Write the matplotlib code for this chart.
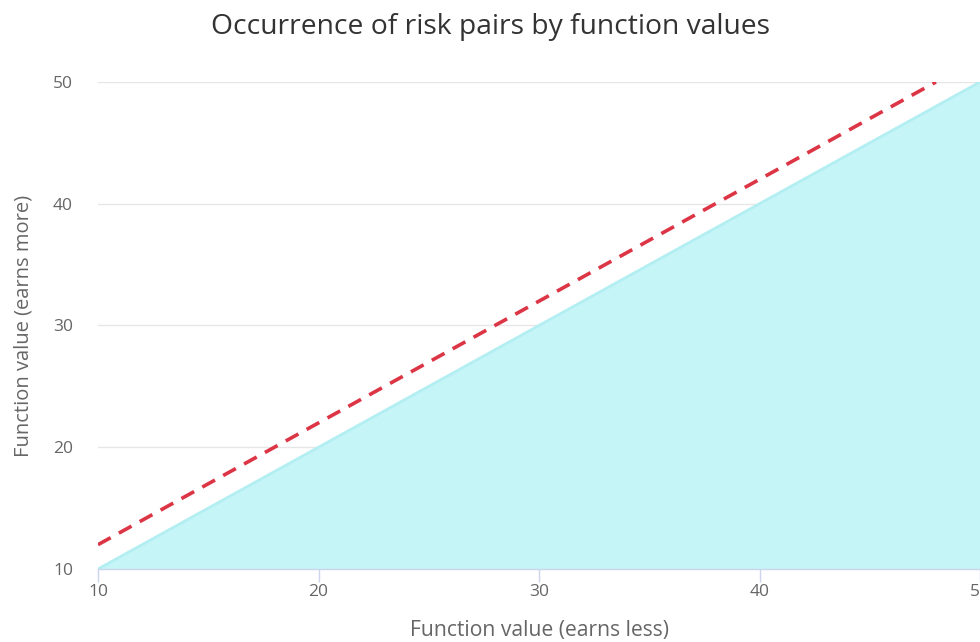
import matplotlib
matplotlib.use('Agg')
import matplotlib.pyplot as plt

plt.rcParams['font.family'] = ['Open Sans', 'DejaVu Sans']

# 数据
area_x = [10, 50]
area_y = [10, 50]
line_x = [10, 48]
line_y = [12, 50]
x_ticks = [10, 20, 30, 40, 50]
y_ticks = [10, 20, 30, 40, 50]


def main():
    fig = plt.figure(figsize=(9.8, 6.42), dpi=100)
    ax = fig.add_axes([0.1, 0.1137, 0.9, 0.7586])

    ax.fill_between(area_x, area_y, 10, color='#c6f5f7', linewidth=0, zorder=2)
    ax.plot(area_x, area_y, color='#b2eef2', linewidth=2, zorder=3)
    ax.plot(line_x, line_y, color='#dc3545', linewidth=2.6, linestyle=(0, (4, 2.6)), zorder=4)

    ax.set_xlim(10, 50)
    ax.set_ylim(10, 50)
    ax.set_xticks(x_ticks)
    ax.set_yticks(y_ticks)

    for s in ['top', 'right', 'left']:
        ax.spines[s].set_visible(False)
    ax.spines['bottom'].set_color('#ccd6eb')
    ax.spines['bottom'].set_linewidth(1)
    ax.spines['bottom'].set_zorder(5)

    ax.yaxis.grid(True, color='#e6e6e6', linewidth=1)
    ax.set_axisbelow(True)
    ax.tick_params(axis='y', length=0, pad=18, labelsize=12.5, labelcolor='#666666')
    ax.tick_params(axis='x', length=9, width=1, color='#ccd6eb', pad=2,
                   labelsize=12.5, labelcolor='#666666')

    # 标题居中于整张图
    fig.text(0.5, 1 - 27 / 642, 'Occurrence of risk pairs by function values',
             fontsize=20.3, color='#333333', ha='center', va='center')
    ax.set_xlabel('Function value (earns less)', fontsize=15.2, color='#666666', labelpad=14)
    ax.set_ylabel('Function value (earns more)', fontsize=14.5, color='#666666', labelpad=14)

    fig.savefig('out.png', dpi=100)


if __name__ == '__main__':
    main()
